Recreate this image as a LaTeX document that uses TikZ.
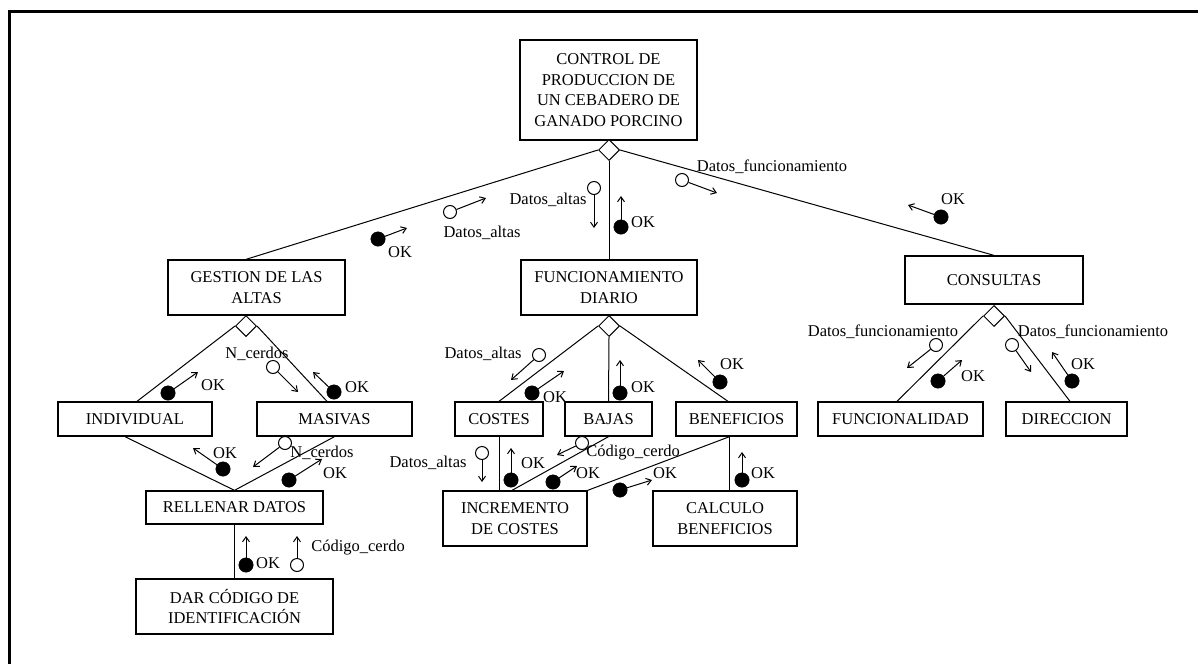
\documentclass[tikz,border=0pt]{standalone}
\usepackage{fontspec}
\setmainfont{Liberation Serif}
\usepackage{tikz}
\usetikzlibrary{arrows.meta, shapes.geometric}
\tikzset{
    modblock/.style={
        rectangle, draw=black, fill=white, line width=1.3pt,
        inner sep=0pt, align=center,
        font=\fontsize{16.5}{20.5}\selectfont
    },
    selnode/.style={
        diamond, draw=black, fill=white, line width=1pt,
        minimum size=21pt, inner sep=0pt
    },
    treeline/.style={line width=1pt},
    datacirc/.style={
        circle, draw=black, fill=white, line width=1pt,
        minimum size=13pt, inner sep=0pt
    },
    flagcirc/.style={
        circle, draw=black, fill=black, minimum size=14.5pt, inner sep=0pt
    },
    couple/.style={
        -{Straight Barb[length=5pt, width=7pt]}, line width=1pt
    },
    cuplab/.style={
        font=\fontsize{16.5}{20}\selectfont, inner sep=0pt
    },
}
\begin{document}
\begin{tikzpicture}[x=1pt, y=-1pt]
    \useasboundingbox (0,0) rectangle (1198,664);
    \draw[line width=3pt] (9,664) -- (9,11.5) -- (1198,11.5);

    % Modules
    \node[modblock, minimum width=177pt, minimum height=100pt] (ctrl) at (608.5,90) {CONTROL DE\\PRODUCCION DE\\UN CEBADERO DE\\GANADO PORCINO};
    \node[modblock, minimum width=177pt, minimum height=55pt] (altas) at (256.5,287.5) {GESTION DE LAS\\ALTAS};
    \node[modblock, minimum width=176pt, minimum height=55pt] (funcion) at (609,287.5) {FUNCIONAMIENTO\\DIARIO};
    \node[modblock, minimum width=178pt, minimum height=48pt] (consultas) at (994,280) {CONSULTAS};
    \node[modblock, minimum width=154pt, minimum height=34pt] (individual) at (135,419) {INDIVIDUAL};
    \node[modblock, minimum width=155pt, minimum height=34pt] (masivas) at (334.5,419) {MASIVAS};
    \node[modblock, minimum width=88pt, minimum height=34pt] (costes) at (499,419) {COSTES};
    \node[modblock, minimum width=87pt, minimum height=34pt] (bajas) at (608.5,419) {BAJAS};
    \node[modblock, minimum width=121pt, minimum height=34pt] (beneficios) at (736.5,419) {BENEFICIOS};
    \node[modblock, minimum width=165pt, minimum height=34pt] (funcionalidad) at (900.5,419) {FUNCIONALIDAD};
    \node[modblock, minimum width=121pt, minimum height=34pt] (direccion) at (1066.5,419) {DIRECCION};
    \node[modblock, minimum width=177pt, minimum height=33pt] (rellenar) at (234.5,507.5) {RELLENAR DATOS};
    \node[modblock, minimum width=197pt, minimum height=55pt] (codigo) at (234.5,606.5) {DAR CÓDIGO DE\\IDENTIFICACIÓN};
    \node[modblock, minimum width=144pt, minimum height=55pt] (incremento) at (515,518.5) {INCREMENTO\\DE COSTES};
    \node[modblock, minimum width=144pt, minimum height=55pt] (calculo) at (725,518.5) {CALCULO\\BENEFICIOS};

    % Calls
    \node[selnode] (ctrlsel) at (609,150) {};
    \node[selnode] (altassel) at (246,326) {};
    \node[selnode] (funcsel) at (609,326) {};
    \node[selnode] (conssel) at (994,316) {};
    \draw[treeline] (ctrlsel.west) -- ([xshift=-10.5pt]altas.north);
    \draw[treeline] (ctrlsel.south) -- (funcion.north);
    \draw[treeline] (ctrlsel.east) -- (consultas.north);
    \draw[treeline] (altassel.west) -- ([xshift=2pt]individual.north);
    \draw[treeline] (altassel.east) -- ([xshift=-7.5pt]masivas.north);
    \draw[treeline] (funcsel.west) -- (costes.north);
    \draw[treeline] (funcsel.south) -- (bajas.north);
    \draw[treeline] (funcsel.east) -- ([xshift=-8.5pt]beneficios.north);
    \draw[treeline] (conssel.west) -- ([xshift=-3.5pt]funcionalidad.north);
    \draw[treeline] (conssel.east) -- ([xshift=3.5pt]direccion.north);
    \draw[treeline] ([xshift=-10pt]individual.south) -- (rellenar.north);
    \draw[treeline] (masivas.south) -- (rellenar.north);
    \draw[treeline] (rellenar.south) -- (codigo.north);
    \draw[treeline] (costes.south) -- (costes.south |- incremento.north);
    \draw[treeline] (bajas.south) -- ([xshift=-3pt]incremento.north);
    \coordinate (benefout) at ([xshift=-7pt]beneficios.south);
    \draw[treeline] (benefout) -- (incremento.north east);
    \draw[treeline] (benefout) -- (benefout |- calculo.north);

    % Couples, first level
    \node[flagcirc] (okaltas) at (378,239) {}; \coordinate (okaltast) at (407,228);
    \draw[couple] (okaltas) -- (okaltast); \node[cuplab] (okaltasl) at (400,252) {OK};
    \node[datacirc] (datosaltas) at (450,212) {}; \coordinate (datosaltast) at (486,198);
    \draw[couple] (datosaltas) -- (datosaltast); \node[cuplab] (datosaltasl) at (482,233) {Datos\_altas};
    \node[datacirc] (datosfunc) at (594,188) {}; \coordinate (datosfunct) at (594,228);
    \draw[couple] (datosfunc) -- (datosfunct); \node[cuplab] (datosfuncl) at (548,200) {Datos\_altas};
    \node[flagcirc] (okfunc) at (621,227) {}; \coordinate (okfunct) at (621,196);
    \draw[couple] (okfunc) -- (okfunct); \node[cuplab] (okfuncl) at (643,222) {OK};
    \node[datacirc] (datoscons) at (682,180) {}; \coordinate (datosconst) at (717,193);
    \draw[couple] (datoscons) -- (datosconst); \node[cuplab] (datosconsl) at (772,167) {Datos\_funcionamiento};
    \node[flagcirc] (okcons) at (941,217) {}; \coordinate (okconst) at (908,205);
    \draw[couple] (okcons) -- (okconst); \node[cuplab] (okconsl) at (953,199) {OK};

    % Couples, GESTION DE LAS ALTAS
    \node[flagcirc] (okindiv) at (168,393) {}; \coordinate (okindivt) at (198,372);
    \draw[couple] (okindiv) -- (okindivt); \node[cuplab] (okindivl) at (213,385) {OK};
    \node[datacirc] (ncerdos) at (273,367) {}; \coordinate (ncerdost) at (298,392);
    \draw[couple] (ncerdos) -- (ncerdost); \node[cuplab] (ncerdosl) at (257,354) {N\_cerdos};
    \node[flagcirc] (okmasiv) at (334,392) {}; \coordinate (okmasivt) at (313,372);
    \draw[couple] (okmasiv) -- (okmasivt); \node[cuplab] (okmasivl) at (357,387) {OK};

    % Couples, FUNCIONAMIENTO DIARIO
    \node[datacirc] (datoscostes) at (539,355) {}; \coordinate (datoscostest) at (511,380);
    \draw[couple] (datoscostes) -- (datoscostest); \node[cuplab] (datoscostesl) at (483,354) {Datos\_altas};
    \node[flagcirc] (okcostes) at (532,393) {}; \coordinate (okcostest) at (564,371);
    \draw[couple] (okcostes) -- (okcostest); \node[cuplab] (okcostesl) at (555,397) {OK};
    \node[flagcirc] (okbajas) at (620,393) {}; \coordinate (okbajast) at (620,360);
    \draw[couple] (okbajas) -- (okbajast); \node[cuplab] (okbajasl) at (643,387) {OK};
    \node[flagcirc] (okbenef) at (720,382) {}; \coordinate (okbeneft) at (698,360);
    \draw[couple] (okbenef) -- (okbeneft); \node[cuplab] (okbenefl) at (732,364) {OK};

    % Couples, CONSULTAS
    \node[datacirc] (datosfuncional) at (936,345) {}; \coordinate (datosfuncionalt) at (907,368);
    \draw[couple] (datosfuncional) -- (datosfuncionalt); \node[cuplab] (datosfuncionall) at (883,332) {Datos\_funcionamiento};
    \node[flagcirc] (okfuncional) at (938,381) {}; \coordinate (okfuncionalt) at (962,360);
    \draw[couple] (okfuncional) -- (okfuncionalt); \node[cuplab] (okfuncionall) at (973,376) {OK};
    \node[datacirc] (datosdirec) at (1012,345) {}; \coordinate (datosdirect) at (1031,372);
    \draw[couple] (datosdirec) -- (datosdirect); \node[cuplab] (datosdirecl) at (1093,332) {Datos\_funcionamiento};
    \node[flagcirc] (okdirec) at (1072,381) {}; \coordinate (okdirect) at (1052,352);
    \draw[couple] (okdirec) -- (okdirect); \node[cuplab] (okdirecl) at (1083,364) {OK};

    % Couples, RELLENAR DATOS
    \node[flagcirc] (okindivr) at (223,469) {}; \coordinate (okindivrt) at (193,448);
    \draw[couple] (okindivr) -- (okindivrt); \node[cuplab] (okindivrl) at (225,453) {OK};
    \node[datacirc] (ncerdosr) at (285,443) {}; \coordinate (ncerdosrt) at (253,467);
    \draw[couple] (ncerdosr) -- (ncerdosrt); \node[cuplab] (ncerdosrl) at (322,453) {N\_cerdos};
    \node[flagcirc] (okmasivr) at (289,480) {}; \coordinate (okmasivrt) at (322,459);
    \draw[couple] (okmasivr) -- (okmasivrt); \node[cuplab] (okmasivrl) at (335,473) {OK};
    \node[flagcirc] (okcodigo) at (246,565) {}; \coordinate (okcodigot) at (246,536);
    \draw[couple] (okcodigo) -- (okcodigot); \node[cuplab] (okcodigol) at (268,563) {OK};
    \node[datacirc] (codcerdo) at (297,565) {}; \coordinate (codcerdot) at (297,536);
    \draw[couple] (codcerdo) -- (codcerdot); \node[cuplab] (codcerdol) at (358,548) {Código\_cerdo};

    % Couples, INCREMENTO / CALCULO
    \node[datacirc] (datosincr) at (482,453) {}; \coordinate (datosincrt) at (482,482);
    \draw[couple] (datosincr) -- (datosincrt); \node[cuplab] (datosincrl) at (428,463) {Datos\_altas};
    \node[flagcirc] (okincr) at (511,480) {}; \coordinate (okincrt) at (511,448);
    \draw[couple] (okincr) -- (okincrt); \node[cuplab] (okincrl) at (533,463) {OK};
    \node[datacirc] (codcerdob) at (582,443) {}; \coordinate (codcerdobt) at (557,455);
    \draw[couple] (codcerdob) -- (codcerdobt); \node[cuplab] (codcerdobl) at (633,453) {Código\_cerdo};
    \node[flagcirc] (okbajasincr) at (553,482) {}; \coordinate (okbajasincrt) at (577,466);
    \draw[couple] (okbajasincr) -- (okbajasincrt); \node[cuplab] (okbajasincrl) at (588,473) {OK};
    \node[flagcirc] (okbenefincr) at (620,490) {}; \coordinate (okbenefincrt) at (652,480);
    \draw[couple] (okbenefincr) -- (okbenefincrt); \node[cuplab] (okbenefincrl) at (665,473) {OK};
    \node[flagcirc] (okcalculo) at (742,480) {}; \coordinate (okcalculot) at (742,452);
    \draw[couple] (okcalculo) -- (okcalculot); \node[cuplab] (okcalculol) at (763,473) {OK};

\end{tikzpicture}
\end{document}
